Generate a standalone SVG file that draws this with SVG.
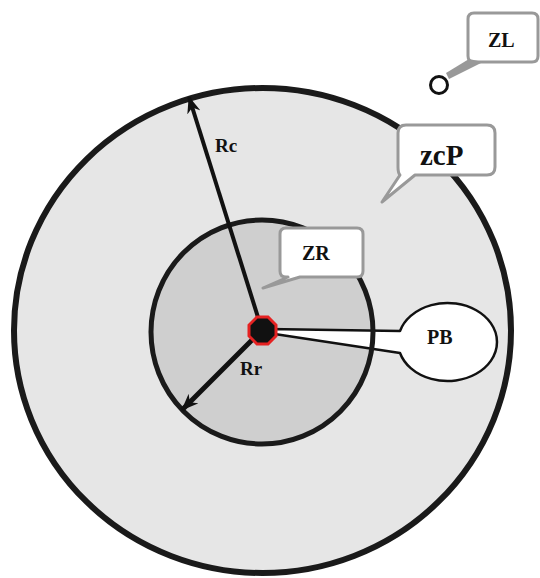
<svg xmlns="http://www.w3.org/2000/svg" width="540" height="578" viewBox="0 0 540 578">
<style>
.lbl{font-family:"Liberation Serif",serif;font-weight:bold;fill:#111;}
.call{fill:#fff;stroke:#999;stroke-width:3;stroke-linejoin:round;}
.ring{stroke:#1a1a1a;}
</style>
<defs>
<marker id="ah" viewBox="0 0 10 8" markerWidth="17" markerHeight="14" refX="9.5" refY="4" orient="auto" markerUnits="userSpaceOnUse">
<path d="M0,0 L10,4 L0,8 L3,4 z" fill="#111"/>
</marker>
</defs>
<rect width="540" height="578" fill="#fff"/>
<g id="outer-zone">
<ellipse cx="262.5" cy="330.5" rx="248.5" ry="242.5" fill="#e6e6e6" class="ring" stroke-width="6"/>
</g>
<g id="inner-zone">
<ellipse cx="262" cy="332" rx="111" ry="112" fill="#cfcfcf"/>
</g>
<g id="PB">
<path d="M400,331 L268,329 L268,333 L400,353 A49.5 39 0 1 0 400,331 Z" fill="#fff" stroke="#111" stroke-width="2.5" stroke-linejoin="round"/>
<text class="lbl" x="427" y="344" font-size="20">PB</text>
</g>
<g id="inner-ring">
<ellipse cx="262" cy="332" rx="111" ry="112" fill="none" class="ring" stroke-width="5"/>
</g>
<g id="connectors">
<line x1="262" y1="330" x2="189" y2="97" stroke="#111" stroke-width="4" marker-end="url(#ah)"/>
<line x1="262" y1="330" x2="182" y2="410" stroke="#111" stroke-width="5" marker-end="url(#ah)"/>
<text class="lbl" x="215" y="152" font-size="19">Rc</text>
<text class="lbl" x="240" y="375" font-size="19">Rr</text>
</g>
<g id="center">
<polygon points="257,317 268,317 276,325 276,336 268,344 257,344 249,336 249,325" fill="#111" stroke="#e52222" stroke-width="3"/>
</g>
<g id="ZR">
<path class="call" d="M286,228 H357 Q363,228 363,234 V271 Q363,277 357,277 H300 L263,288 L288,277 H286 Q280,277 280,271 V234 Q280,228 286,228 Z"/>
<text class="lbl" x="302" y="260" font-size="20">ZR</text>
</g>
<g id="zcP">
<path class="call" d="M406,125 H487 Q495,125 495,133 V167 Q495,175 487,175 H415 L382,202 L400,175 Q398,173 398,167 V133 Q398,125 406,125 Z"/>
<text class="lbl" x="420" y="165" font-size="29">zcP</text>
</g>
<g id="ZL">
<path class="call" d="M474,13 H532 Q538,13 538,19 V56 Q538,62 532,62 H474 Q468,62 468,56 V19 Q468,13 474,13 Z"/>
<polygon points="469,59 483,62 449,79 446,73" fill="#999"/>
<text class="lbl" x="488" y="47" font-size="20">ZL</text>
</g>
<g id="O">
<circle cx="439" cy="85" r="8.5" fill="#fff" stroke="#111" stroke-width="3"/>
</g>
</svg>
